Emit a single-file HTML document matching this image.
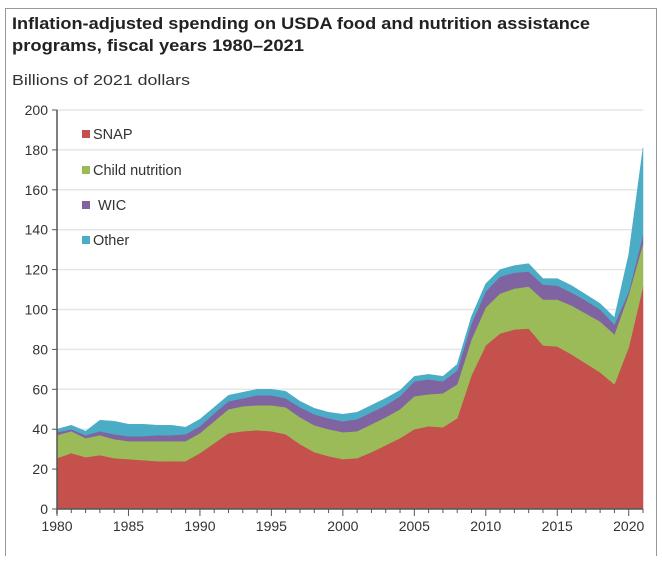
<!DOCTYPE html>
<html><head><meta charset="utf-8"><style>
html,body{margin:0;padding:0;background:#fff;}
body{width:662px;height:556px;overflow:hidden;font-family:"Liberation Sans",sans-serif;}
</style></head><body>
<svg width="662" height="556" viewBox="0 0 662 556" xmlns="http://www.w3.org/2000/svg">
<line x1="5.5" y1="8" x2="5.5" y2="556" stroke="#999"/>
<line x1="656.5" y1="8" x2="656.5" y2="556" stroke="#999"/>
<line x1="5" y1="8.5" x2="657" y2="8.5" stroke="#999"/>
<text x="12" y="29" font-size="16.5" font-weight="bold" fill="#222" textLength="578" lengthAdjust="spacingAndGlyphs">Inflation-adjusted spending on USDA food and nutrition assistance</text>
<text x="12" y="51" font-size="16.5" font-weight="bold" fill="#222" textLength="292" lengthAdjust="spacingAndGlyphs">programs, fiscal years 1980–2021</text>
<text x="12" y="85" font-size="14.5" fill="#333" textLength="178" lengthAdjust="spacingAndGlyphs">Billions of 2021 dollars</text>
<g id="grid"></g>
<g id="areas"></g>
<g id="axes"></g>
<g id="legend"></g>
</svg>
<script>
const years = [];
for (let y = 1980; y <= 2021; y++) years.push(y);
const snap  = [25.5,28,26,27,25.5,25,24.5,24,24,24,28,33,38,39,39.5,39,37.5,32.5,28.5,26.5,25,25.5,28.5,32,35.5,40,41.5,41,45.5,67,82,88,90,90.5,82,81.5,77.5,73,68.5,62.5,81,111.5];
const child = [11.5,11,9.5,10,9.5,9,9.5,10,10,10,10,11,12,12.5,12.5,13,13.5,13.5,13.5,13.5,13.5,13.5,14,14,14.5,16.5,16,17,17,18,19,20,20.5,21,23,23.5,24.5,25,25.5,25,26.5,21.5];
const wic   = [1.5,1,1.5,2,2.5,2.5,2.5,3,3,3.5,3.5,4,4,4,5,5,4.5,5,5.5,5.5,5.5,6,6,6,6.5,7.5,7.5,6,7,8,8,8.5,8,7.5,7.5,7,6.5,6.5,6,5,1.5,4.5];
const other = [1.5,2,2,5.5,6.5,6,6,5,5,3.5,3.5,3,3,3,3,3,3.5,3,3,3,3.5,3.5,3.5,3.5,3,2.5,2.5,2.5,3,3.5,4,3.5,3.5,4,3,3.5,3.5,3,3,3.5,18.5,43.5];
const yTicks = [0,20,40,60,80,100,120,140,160,180,200];
const xLabels = [1980,1985,1990,1995,2000,2005,2010,2015,2020];
const seriesNames = ["SNAP","Child nutrition","WIC","Other"];
const seriesColors = ["#c4514b","#9bbb59","#8064a2","#4bacc6"];

const NS = "http://www.w3.org/2000/svg";
const X0 = 57, X1 = 643, Y0 = 509, Y1 = 110;
const xs = y => X0 + (y - 1980) / (2021 - 1980) * (X1 - X0);
const ys = v => Y0 - v / 200 * (Y0 - Y1);
function mk(tag, attrs, parent) {
  const e = document.createElementNS(NS, tag);
  for (const k in attrs) e.setAttribute(k, attrs[k]);
  parent.appendChild(e);
  return e;
}
const grid = document.getElementById("grid");
const areas = document.getElementById("areas");
const axes = document.getElementById("axes");
const legend = document.getElementById("legend");

yTicks.forEach(t => {
  if (t > 0) {
    const gl = mk("line", {x1: X0, x2: X1, y1: ys(t), y2: ys(t), stroke: "#e6e6e6", "stroke-width": 1.5}, grid);
    
    
  }
  const tk = mk("line", {x1: X0 - 5, x2: X0, y1: ys(t), y2: ys(t), stroke: "#555"}, axes);
  
  
  const lb = mk("text", {x: X0 - 9, y: ys(t) + 5, "text-anchor": "end", "font-size": 14, fill: "#333"}, axes);
  lb.textContent = t;
  
  
});

const series = [snap, child, wic, other];
const cum = years.map(() => 0);
series.forEach((s, si) => {
  const lower = cum.slice();
  s.forEach((v, i) => cum[i] += v);
  let d = "M" + years.map((y, i) => xs(y) + "," + ys(cum[i])).join(" L");
  for (let i = years.length - 1; i >= 0; i--) d += " L" + xs(years[i]) + "," + ys(lower[i]);
  d += " Z";
  const p = mk("path", {d: d, fill: seriesColors[si], stroke: seriesColors[si], "stroke-width": 0.5}, areas);
  
  
});

const yax = mk("line", {x1: X0, x2: X0, y1: Y1, y2: Y0 + 5, stroke: "#555", "stroke-width": 1.5}, axes);


const xax = mk("line", {x1: X0, x2: X1, y1: Y0, y2: Y0, stroke: "#555", "stroke-width": 1.5}, axes);


years.forEach(y => {
  const major = xLabels.includes(y);
  const tk = mk("line", {x1: xs(y), x2: xs(y), y1: Y0, y2: Y0 + (major ? 7 : 4), stroke: "#555"}, axes);
  
  
});
xLabels.forEach(y => {
  const lb = mk("text", {x: xs(y), y: Y0 + 22, "text-anchor": "middle", "font-size": 14, fill: "#333"}, axes);
  lb.textContent = y;
  
  
});

const legY = [139, 175, 210, 245];
seriesNames.forEach((n, i) => {
  const sq = mk("rect", {x: 82, y: legY[i] - 9, width: 8, height: 8, fill: seriesColors[i]}, legend);
  
  
  const t = mk("text", {x: n === "WIC" ? 98 : 93, y: legY[i], "font-size": 14.5, fill: "#333"}, legend);
  t.textContent = n;
  
  
});
</script>
</body></html>
